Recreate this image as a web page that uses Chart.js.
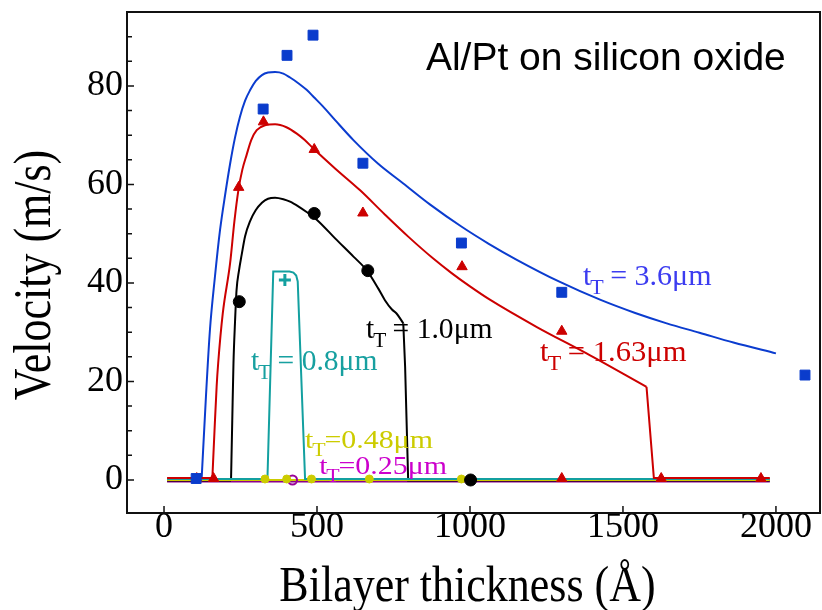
<!DOCTYPE html>
<html><head><meta charset="utf-8">
<script src="https://cdn.jsdelivr.net/npm/chart.js@4.4.0/dist/chart.umd.min.js"></script>
<style>html,body{margin:0;padding:0;background:#fff;}canvas{display:block;}</style>
</head><body>
<canvas id="c" width="822" height="610"></canvas>
<script>
// ---- axis ticks ----
const xTickValues = [0, 500, 1000, 1500, 2000];
const yTickValues = [0, 20, 40, 60, 80];
const yMinorTickValues = [5, 10, 15, 25, 30, 35, 45, 50, 55, 65, 70, 75, 85, 90];

// ---- model curves: [bilayer thickness (Å), velocity (m/s)] ----
// smooth parts
const curve36 = [[123,0.3],[137,16.9],[150,30.4],[166,41],[183,50.7],[200,58],[216,64.2],[232,69.5],[248,73.7],[265,77],[281,79.1],[300,81],[320,82.2],[340,82.7],[363,82.8],[390,82.5],[412,81.7],[440,80.5],[466,79.2],[490,77.7],[520,75.8],[560,73.0],[619,69.0],[700,64.2],[782,60.2],[870,55.9],[973,51.4],[1060,48.0],[1153,44.7],[1294,40.2],[1425,36.6],[1540,33.9],[1643,31.8],[1750,29.9],[1861,27.9],[2000,25.7]];
const curve163 = [[158,0.4],[165,10],[172,19],[177,23.7],[192,33.8],[216,44],[230,52.5],[243,58.8],[256,63],[270,66],[285,69],[303,71],[330,72],[363,72.2],[400,71.6],[434,70.3],[460,69],[488,67.3],[560,63.2],[641,58.8],[720,54],[800,49.3],[879,45.0],[940,42.0],[1000,39.3],[1065,36.6],[1220,31],[1381,25.7],[1577,18.9]];
const curve10 = [[219,-0.1],[223,12],[227,23.7],[232,32],[237,38.5],[245,42.5],[254,45.8],[265,49.5],[281,52.5],[300,54.8],[320,56.3],[340,57.1],[363,57.3],[390,57],[412,56.5],[440,55.5],[466,54.4],[500,52.8],[560,49],[620,45.3],[662,42.6],[700,38.9],[722,36.5],[745,34.6],[760,33.8],[782,31.8]];
// straight parts (baselines and drops)
const base36 = [[10,0.3],[123,0.3]];
const base163 = [[10,0.4],[158,0.4]];
const drop163 = [[1577,18.9],[1601,0.4],[1980,0.4]];
const base10 = [[10,-0.1],[219,-0.1]];
const drop10 = [[782,31.8],[788,23],[798,-0.1],[1980,-0.1]];
const curve08 = [[10,0.2],[338,0.2],[357,42.3],[410,42.3],[423,42.1],[432,41.5],[437,40.3],[461,0.2],[1980,0.2]];
const curve048 = [[10,0],[1980,0]];
const curve025 = [[10,-0.3],[1980,-0.3]];

// ---- measured points ----
const pts36 = [[105,0.3],[324,75.3],[402,86.2],[487,90.3],[650,64.3],[972,48.1],[1300,38.1],[2095,21.3]];
const pts163 = [[107,0.3],[162,0.3],[244,59.4],[325,72.7],[491,67.1],[650,54.2],[974,43.3],[1300,30.2],[1300,0.3],[1625,0.3],[1951,0.3]];
const pts10 = [[246,36.2],[491,54.1],[666,42.5],[1002,0]];
const pts08 = [[395,40.6]];
const pts048 = [[330,0.2],[401,0.2],[482,0.2],[671,0.2],[972,0.2]];
const pts025 = [[420,0]];

// ---- text ----
const chartTitle = 'Al/Pt on silicon oxide';
const xTitle = 'Bilayer thickness (Å)';
const yTitle = 'Velocity (m/s)';
// curve labels: [text after subscript, anchor x (Å), anchor y (m/s)]
const labels36 = [' = 3.6μm', 1369, 39.6];
const labels163 = [' = 1.63μm', 1229, 24.1];
const labels10 = [' = 1.0μm', 660, 28.8];
const labels08 = [' = 0.8μm', 284, 22.3];
const labels048 = ['=0.48μm', 461, 6.5];
const labels025 = ['=0.25μm', 507, 1.2];

const toXY = a => a.map(p => ({x: p[0], y: p[1]}));

const BLUE = '#0b3ccf', RED = '#cc0000', BLACK = '#000000', TEAL = '#13a0a0', YEL = '#cccc00', PUR = '#8a008a';

function lineDS(d, c, smooth) {
  const ds = {data: toXY(d), showLine: true, borderColor: c, borderWidth: 2, pointRadius: 0, tension: 0, fill: false, order: 2};
  if (smooth) { ds.cubicInterpolationMode = 'monotone'; ds.tension = 0.4; }
  return ds;
}
function ptDS(d, c, style, r, opts) {
  return Object.assign({data: toXY(d), showLine: false, pointStyle: style, pointRadius: r,
    backgroundColor: c, borderColor: c, borderWidth: 1, order: 0}, opts || {});
}

const SERIF = '"Liberation Serif", "Times New Roman", serif';

function tLabel(ctx, px, py, rest, color, size, sx) {
  ctx.save();
  ctx.translate(px, py);
  ctx.scale(sx, 1);
  ctx.fillStyle = color;
  ctx.textAlign = 'left';
  ctx.textBaseline = 'alphabetic';
  ctx.font = size + 'px ' + SERIF;
  ctx.fillText('t', 0, 0);
  let w = ctx.measureText('t').width;
  const ss = Math.round(size * 0.72);
  ctx.font = ss + 'px ' + SERIF;
  ctx.fillText('T', w - 1, size * 0.3);
  w += ctx.measureText('T').width - 2;
  ctx.font = size + 'px ' + SERIF;
  ctx.fillText(rest, w, 0);
  ctx.restore();
}

function stretched(ctx, text, x, y, font, sx, sy, rot) {
  ctx.save();
  ctx.translate(x, y);
  ctx.rotate(rot);
  ctx.scale(sx, sy);
  ctx.font = font;
  ctx.fillStyle = '#000';
  ctx.textAlign = 'center';
  ctx.textBaseline = 'alphabetic';
  ctx.fillText(text, 0, 0);
  ctx.restore();
}

const decor = {
  id: 'decor',
  afterDraw(chart) {
    const {ctx, chartArea: a, scales: {x, y}} = chart;
    ctx.save();
    // frame
    ctx.strokeStyle = '#111';
    ctx.lineWidth = 2;
    ctx.strokeRect(a.left, a.top, a.right - a.left, a.bottom - a.top);
    // inward ticks
    ctx.lineWidth = 1.5;
    ctx.beginPath();
    xTickValues.forEach(v => { const p = x.getPixelForValue(v); ctx.moveTo(p, a.bottom); ctx.lineTo(p, a.bottom - 7); });
    yTickValues.forEach(v => { const p = y.getPixelForValue(v); ctx.moveTo(a.left, p); ctx.lineTo(a.left + 7, p); });
    yMinorTickValues.forEach(v => { const p = y.getPixelForValue(v); ctx.moveTo(a.left, p); ctx.lineTo(a.left + 5, p); });
    ctx.stroke();
    // title inside plot
    ctx.fillStyle = '#000';
    ctx.font = '39px "Liberation Sans", Arial, sans-serif';
    ctx.textAlign = 'left';
    ctx.textBaseline = 'alphabetic';
    ctx.fillText(chartTitle, x.getPixelForValue(856), y.getPixelForValue(83.2));
    // curve labels
    const L = (lab, col, size, sx) => tLabel(ctx, x.getPixelForValue(lab[1]), y.getPixelForValue(lab[2]), lab[0], col, size, sx);
    L(labels36, '#3c3cf0', 30, 1);
    L(labels163, RED, 30, 1.02);
    L(labels10, BLACK, 29, 1.02);
    L(labels08, '#17a0a0', 29, 1.02);
    L(labels048, '#cccc00', 26, 1.15);
    L(labels025, '#cc00cc', 26, 1.15);
    // axis titles
    const cx = (a.left + a.right) / 2;
    stretched(ctx, xTitle, cx - 6, 601, '44px ' + SERIF, 1, 1.13, 0);
    stretched(ctx, yTitle, 50, 275, '44px ' + SERIF, 1, 1.2, -Math.PI / 2);
    ctx.restore();
  }
};

new Chart(document.getElementById('c'), {
  type: 'scatter',
  data: {
    datasets: [
      ptDS(pts36, '#0a3ccc', 'rect', 7),
      ptDS(pts163, RED, 'triangle', 6),
      ptDS(pts10, BLACK, 'circle', 6),
      ptDS(pts08, TEAL, 'cross', 6, {borderWidth: 3}),
      ptDS(pts048, YEL, 'circle', 4),
      ptDS(pts025, '#990099', 'circle', 4.5, {backgroundColor: 'rgba(0,0,0,0)', borderWidth: 2}),
      lineDS(base163, RED, false),
      lineDS(curve163, RED, true),
      lineDS(drop163, RED, false),
      lineDS(curve08, TEAL, false),
      lineDS(curve048, YEL, false),
      lineDS(base10, BLACK, false),
      lineDS(curve10, BLACK, true),
      lineDS(drop10, BLACK, false),
      lineDS(base36, BLUE, false),
      lineDS(curve36, BLUE, true),
      lineDS(curve025, PUR, false)
    ]
  },
  options: {
    responsive: false,
    animation: false,
    devicePixelRatio: 1,
    layout: {autoPadding: false, padding: {top: 12, right: 2, left: 0, bottom: 0}},
    plugins: {legend: {display: false}, tooltip: {enabled: false}},
    scales: {
      x: {
        type: 'linear', min: -121, max: 2144,
        grid: {display: false, drawTicks: false},
        border: {display: false},
        afterBuildTicks: s => { s.ticks = xTickValues.map(v => ({value: v})); },
        afterFit: s => { s.height = 97; s.paddingLeft = 0; s.paddingRight = 0; },
        ticks: {color: '#000', padding: 0, maxRotation: 0, autoSkip: false,
          font: {family: SERIF, size: 36, lineHeight: 0.8},
          callback: v => String(v)}
      },
      y: {
        type: 'linear', min: -6.7, max: 95,
        grid: {display: false, drawTicks: false},
        border: {display: false},
        afterBuildTicks: s => { s.ticks = yTickValues.map(v => ({value: v})); },
        afterFit: s => { s.width = 127; s.paddingTop = 0; s.paddingBottom = 0; },
        ticks: {color: '#000', padding: 4, autoSkip: false,
          font: {family: SERIF, size: 36, lineHeight: 1},
          callback: v => String(v)}
      }
    }
  },
  plugins: [decor]
});
</script>
</body></html>
